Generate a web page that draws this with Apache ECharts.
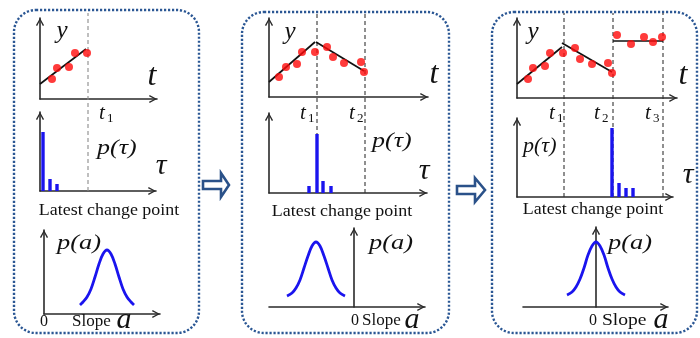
<!DOCTYPE html>
<html><head><meta charset="utf-8">
<script src="https://cdn.jsdelivr.net/npm/echarts@6/dist/echarts.min.js"></script>
<style>html,body{margin:0;padding:0;background:#fff}#c{width:700px;height:338px}</style>
</head><body><div id="c"></div>
<script>
// ---------------- data ----------------
// Panel 1
const p1PointT = [1.2, 1.7, 2.9, 3.5, 4.7];
const p1PointY = [2.0, 3.1, 3.2, 4.6, 4.6];
const p1FitT = [[0, 4.6]];
const p1FitY = [[1.5, 5.0]];
const p1ChangeT = [4.8];
const p1TauX = [0.3, 1.0, 1.7];
const p1TauP = [5.9, 1.2, 0.7];
const p1SlopeA = [3.6, 3.9, 4.3, 4.7, 5.1, 5.5, 5.9, 6.3, 6.7, 7.1, 7.5, 7.9, 8.3, 8.7, 9.0];
const p1SlopeP = [0.9, 1.2, 1.7, 2.5, 3.7, 5.0, 6.0, 6.4, 6.0, 5.0, 3.7, 2.5, 1.7, 1.2, 0.9];
// Panel 2
const p2PointT = [1.0, 1.7, 2.8, 3.3, 4.6, 5.8, 6.4, 7.5, 9.2, 9.5];
const p2PointY = [2.0, 3.0, 3.3, 4.5, 4.5, 5.0, 4.0, 3.4, 3.5, 2.5];
const p2FitT = [[0, 4.6], [4.7, 9.5]];
const p2FitY = [[1.5, 5.5], [5.5, 2.6]];
const p2ChangeT = [4.8, 9.6];
const p2TauX = [4.0, 4.8, 5.4, 6.2];
const p2TauP = [0.7, 5.9, 1.2, 0.7];
const p2SlopeA = [-6.7, -6.2, -5.8, -5.4, -5.0, -4.6, -4.2, -3.8, -3.4, -3.0, -2.6, -2.2, -1.8, -1.4, -0.9];
const p2SlopeP = [1.1, 1.4, 1.9, 2.7, 3.9, 5.1, 6.1, 6.5, 6.1, 5.1, 3.9, 2.7, 1.9, 1.4, 1.1];
// Panel 3
const p3PointT = [1.1, 1.6, 2.8, 3.3, 4.6, 5.8, 6.3, 7.5, 9.1, 9.5, 10.0, 11.4, 12.7, 13.6, 14.5];
const p3PointY = [1.9, 3.0, 3.2, 4.5, 4.5, 5.0, 3.9, 3.4, 3.5, 2.5, 6.3, 5.4, 6.1, 5.6, 6.1];
const p3FitT = [[0, 4.5], [4.5, 9.5], [9.6, 14.6]];
const p3FitY = [[1.4, 5.1], [5.5, 2.6], [5.7, 5.7]];
const p3ChangeT = [4.7, 9.6, 14.6];
const p3TauX = [9.5, 10.2, 10.9, 11.6];
const p3TauP = [6.9, 1.4, 0.9, 0.9];
const p3SlopeA = [-2.9, -2.4, -2.0, -1.6, -1.2, -0.8, -0.4, 0, 0.4, 0.8, 1.2, 1.6, 2.0, 2.4, 2.9];
const p3SlopeP = [1.2, 1.5, 2.0, 2.8, 3.9, 5.2, 6.1, 6.5, 6.1, 5.2, 3.9, 2.8, 2.0, 1.5, 1.2];

// ---------------- layout ----------------
const panels = [
  { pt: p1PointT, py: p1PointY, ft: p1FitT, fy: p1FitY, ct: p1ChangeT, tx: p1TauX, tp: p1TauP, sa: p1SlopeA, sp: p1SlopeP,
    top: { left: 40, top: 18, width: 117, height: 81, xmin: 0, xmax: 11.7, ymax: 8.1 },
    tau: { left: 40, top: 112, width: 116, height: 79, xmin: 0, xmax: 11.6, ymax: 7.9 },
    slope: { left: 44, top: 230, width: 116, height: 84, xmin: 0, xmax: 11.6, ymax: 8.4 },
    ov: { left: 40, top: 13, width: 117, height: 178, xmin: 0, xmax: 11.7 }, dash: '#8a8a8a' },
  { pt: p2PointT, py: p2PointY, ft: p2FitT, fy: p2FitY, ct: p2ChangeT, tx: p2TauX, tp: p2TauP, sa: p2SlopeA, sp: p2SlopeP,
    top: { left: 269, top: 18, width: 159, height: 79, xmin: 0, xmax: 15.9, ymax: 7.9 },
    tau: { left: 269, top: 113, width: 158, height: 80, xmin: 0, xmax: 15.8, ymax: 8.0 },
    slope: { left: 269, top: 228, width: 156, height: 79, xmin: -8.5, xmax: 7.1, ymax: 7.9 },
    ov: { left: 269, top: 13, width: 159, height: 180, xmin: 0, xmax: 15.9 }, dash: '#333' },
  { pt: p3PointT, py: p3PointY, ft: p3FitT, fy: p3FitY, ct: p3ChangeT, tx: p3TauX, tp: p3TauP, sa: p3SlopeA, sp: p3SlopeP,
    top: { left: 517, top: 18, width: 160, height: 80, xmin: 0, xmax: 16.0, ymax: 8.0 },
    tau: { left: 517, top: 118, width: 156, height: 79, xmin: 0, xmax: 15.6, ymax: 7.9 },
    slope: { left: 523, top: 227, width: 145, height: 80, xmin: -7.3, xmax: 7.2, ymax: 8.0 },
    ov: { left: 517, top: 13, width: 160, height: 184, xmin: 0, xmax: 16.0 }, dash: '#333' }
];

const arrowPath = 'path://M0,9 L5,0 L10,9 L8.5,9.8 L5,3.1 L1.5,9.8 Z';
function visAxis(gi, min, max) {
  return { type: 'value', gridIndex: gi, min: min, max: max,
    axisLine: { show: true, onZero: true, symbol: ['none', arrowPath], symbolSize: [10, 8], symbolOffset: [0, -4],
      lineStyle: { color: '#2a2a2a', width: 1.6 } },
    axisTick: { show: false }, axisLabel: { show: false }, splitLine: { show: false } };
}
function hidAxis(gi, min, max) {
  return { type: 'value', gridIndex: gi, min: min, max: max, show: false,
    axisLine: { show: false }, axisTick: { show: false }, axisLabel: { show: false }, splitLine: { show: false } };
}

const grids = [], xAxes = [], yAxes = [], series = [];
panels.forEach(function (p) {
  ['top', 'tau', 'slope'].forEach(function (k) {
    const g = p[k]; const gi = grids.length;
    grids.push({ left: g.left, top: g.top, width: g.width, height: g.height, containLabel: false });
    xAxes.push(visAxis(gi, g.xmin, g.xmax));
    yAxes.push(visAxis(gi, 0, g.ymax));
    g.gi = gi;
  });
  const o = p.ov; const oi = grids.length;
  grids.push({ left: o.left, top: o.top, width: o.width, height: o.height, containLabel: false });
  xAxes.push(hidAxis(oi, o.xmin, o.xmax));
  yAxes.push(hidAxis(oi, 0, 1));
  // dashed change-point lines
  p.ct.forEach(function (t) {
    series.push({ type: 'line', xAxisIndex: oi, yAxisIndex: oi, data: [[t, 0], [t, 1]], showSymbol: false, silent: true, z: 1,
      lineStyle: { color: p.dash, width: 1.1, type: [4, 3] } });
  });
  // fitted segments
  p.ft.forEach(function (seg, i) {
    series.push({ type: 'line', xAxisIndex: p.top.gi, yAxisIndex: p.top.gi,
      data: [[seg[0], p.fy[i][0]], [seg[1], p.fy[i][1]]], showSymbol: false, z: 2,
      lineStyle: { color: '#111', width: 1.7 } });
  });
  // observations
  series.push({ type: 'scatter', xAxisIndex: p.top.gi, yAxisIndex: p.top.gi, z: 3,
    data: p.pt.map(function (t, i) { return [t, p.py[i]]; }), symbolSize: 8, itemStyle: { color: '#ff0a0a' } });
  // change point probability
  series.push({ type: 'bar', xAxisIndex: p.tau.gi, yAxisIndex: p.tau.gi, barWidth: 3.4, z: 3,
    data: p.tx.map(function (t, i) { return [t, p.tp[i]]; }), itemStyle: { color: '#1a14ee' } });
  // slope density
  series.push({ type: 'line', xAxisIndex: p.slope.gi, yAxisIndex: p.slope.gi, smooth: 0.35, showSymbol: false, z: 3,
    data: p.sa.map(function (a, i) { return [a, p.sp[i]]; }), lineStyle: { color: '#1a14ee', width: 2.8 } });
});

// ---------------- decorations ----------------
const boxCol = '#2b5794';
const els = [];
[[14, 10, 185, 323], [242, 12, 207, 321], [492, 12, 205, 321]].forEach(function (b) {
  els.push({ type: 'rect', z: 0, shape: { x: b[0], y: b[1], width: b[2], height: b[3], r: 22 },
    style: { fill: 'none', stroke: boxCol, lineWidth: 2.4, lineDash: [2.2, 1.8] } });
});
[[[203, 181], [221, 181], [221, 173], [229, 185], [221, 197], [221, 189], [203, 189]],
 [[457, 186], [475, 186], [475, 178], [485, 190], [475, 202], [475, 194], [457, 194]]].forEach(function (pts) {
  els.push({ type: 'polygon', z: 0, shape: { points: pts }, style: { fill: '#fff', stroke: '#2a5189', lineWidth: 2.6, lineJoin: 'miter' } });
});

const SERIF = '"Liberation Serif", "Times New Roman", serif';
function txt(s, x, y, size, italic, align, sx) {
  els.push({ type: 'text', x: x, y: y, scaleX: sx || 1, z: 10,
    style: { text: s, fontFamily: SERIF, fontSize: size, fontStyle: italic ? 'italic' : 'normal',
      fill: '#111', align: align || 'center', verticalAlign: 'middle' } });
}
function tsub(x, y, n) { txt('t', x, y, 21, true, 'center'); txt(n, x + 5, y + 6, 13, false, 'left'); }

// panel 1
txt('y', 62, 31, 25, true); txt('t', 152, 77, 32, true);
tsub(102, 113, '1');
txt('p(τ)', 97, 149, 20, true, 'left', 1.3); txt('τ', 161, 166, 30, true);
txt('Latest change point', 109, 211, 16, false, 'center', 1.12);
txt('p(a)', 57, 243, 22, true, 'left', 1.2);
txt('0', 44, 322, 16, false); txt('Slope', 72, 322, 17, false, 'left'); txt('a', 124, 320, 30, true);
// panel 2
txt('y', 290, 32, 25, true); txt('t', 434, 75, 32, true);
tsub(303, 113, '1'); tsub(352, 113, '2');
txt('p(τ)', 372, 142, 20, true, 'left', 1.3); txt('τ', 424, 171, 30, true);
txt('Latest change point', 342, 212, 16, false, 'center', 1.12);
txt('p(a)', 369, 243, 22, true, 'left', 1.2);
txt('0', 355, 321, 16, false); txt('Slope', 362, 321, 17, false, 'left'); txt('a', 412, 320, 30, true);
// panel 3
txt('y', 533, 32, 25, true); txt('t', 683, 76, 32, true);
tsub(552, 113, '1'); tsub(597, 113, '2'); tsub(648, 113, '3');
txt('p(τ)', 523, 147, 20, true, 'left', 1.1); txt('τ', 688, 175, 30, true);
txt('Latest change point', 593, 210, 16, false, 'center', 1.12);
txt('p(a)', 608, 243, 22, true, 'left', 1.2);
txt('0', 593, 321, 16, false); txt('Slope', 602, 321, 17, false, 'left', 1.15); txt('a', 661, 320, 30, true);

const chart = echarts.init(document.getElementById('c'), null, { renderer: 'canvas' });
chart.setOption({
  animation: false, backgroundColor: '#fff',
  grid: grids, xAxis: xAxes, yAxis: yAxes, series: series,
  graphic: { elements: els }
});
</script></body></html>
